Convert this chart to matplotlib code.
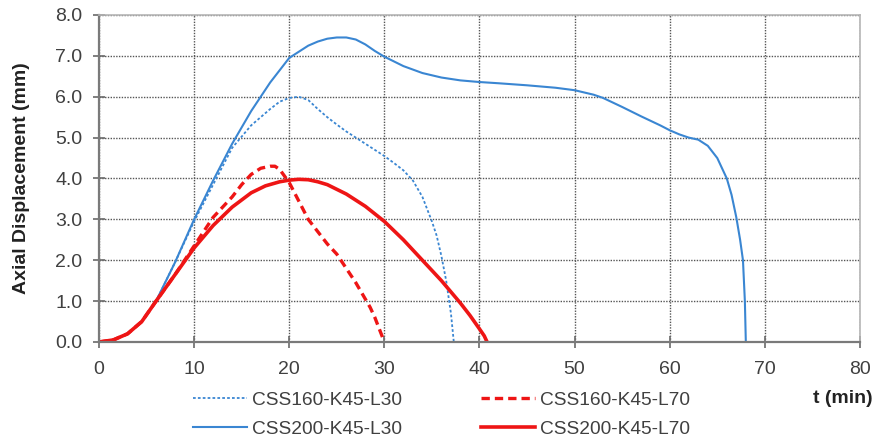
import matplotlib
matplotlib.use("Agg")
import matplotlib.pyplot as plt

plt.rcParams['font.family'] = ['Liberation Sans', 'DejaVu Sans']

# CSS160-K45-L30 (blue dotted)
t_160_l30 = [0, 1.5, 3, 4.5, 6, 8, 10, 12, 14, 16, 17, 18, 19, 20, 21, 22, 23, 24, 25, 26,
             28, 30, 31, 32, 33, 34, 35, 35.5, 36, 36.5, 37, 37.3]
d_160_l30 = [0, 0.05, 0.2, 0.5, 1.0, 1.95, 2.95, 3.85, 4.75, 5.3, 5.5, 5.7, 5.88, 5.97, 6.0, 5.92,
             5.7, 5.5, 5.32, 5.15, 4.85, 4.55, 4.38, 4.2, 3.95, 3.55, 2.95, 2.6, 2.1, 1.5, 0.7, 0]

# CSS160-K45-L70 (red dashed)
t_160_l70 = [0, 1.5, 3, 4.5, 6, 8, 10, 11, 12, 13, 14, 15, 16, 17, 18, 18.5, 19, 20, 21, 22,
             23, 24, 25, 26, 27, 28, 28.5, 29, 29.5, 30]
d_160_l70 = [0, 0.05, 0.2, 0.5, 1.0, 1.65, 2.35, 2.7, 3.05, 3.3, 3.55, 3.85, 4.1, 4.25, 4.3, 4.3,
             4.22, 3.9, 3.45, 3.0, 2.7, 2.4, 2.15, 1.8, 1.45, 1.05, 0.85, 0.6, 0.3, 0]

# CSS200-K45-L30 (blue solid)
t_200_l30 = [0, 1.5, 3, 4.5, 6, 8, 10, 12, 14, 16, 18, 20, 22, 23, 24, 25, 26, 27, 28,
             29, 30, 32, 34, 36, 38, 40, 42, 45, 48, 50, 52, 53, 55, 57, 59, 60, 61, 62, 63,
             64, 65, 66, 66.5, 67, 67.4, 67.7, 67.9, 68.0]
d_200_l30 = [0, 0.05, 0.2, 0.5, 1.0, 1.95, 3.0, 3.95, 4.85, 5.65, 6.35, 6.95, 7.25, 7.35, 7.42,
             7.45, 7.45, 7.4, 7.28, 7.12, 6.98, 6.75, 6.58, 6.47, 6.4, 6.36, 6.33, 6.28,
             6.22, 6.16, 6.05, 5.97, 5.75, 5.52, 5.3, 5.18, 5.08, 5.0, 4.95, 4.8, 4.5, 4.0,
             3.6, 3.05, 2.5, 2.0, 1.0, 0]

# CSS200-K45-L70 (red solid)
t_200_l70 = [0, 1.5, 3, 4.5, 6, 8, 10, 12, 14, 16, 17.5, 19, 20, 21, 22, 23, 24, 26, 28, 30,
             32, 34, 36, 38, 39, 40, 40.5, 40.8]
d_200_l70 = [0, 0.05, 0.2, 0.5, 1.0, 1.65, 2.3, 2.85, 3.3, 3.65, 3.82, 3.92, 3.96, 3.98, 3.97,
             3.92, 3.85, 3.62, 3.32, 2.95, 2.5, 2.0, 1.5, 0.95, 0.65, 0.32, 0.15, 0]

x_ticks = list(range(0, 81, 10))
y_ticks = [0, 1, 2, 3, 4, 5, 6, 7, 8]

blue = '#3a86d2'
red = '#ee1515'
txt_col = '#404040'

fig = plt.figure(figsize=(8.76, 4.41), dpi=100)
ax = fig.add_axes([0.113, 0.2245, 0.8687, 0.7415])

ax.plot(t_160_l30, d_160_l30, color=blue, lw=1.3, ls=(0, (1.5, 1.2)), label='CSS160-K45-L30')
ax.plot(t_160_l70, d_160_l70, color=red, lw=2.4, ls=(0, (2.5, 1.5)), label='CSS160-K45-L70')
ax.plot(t_200_l30, d_200_l30, color=blue, lw=1.5, label='CSS200-K45-L30')
ax.plot(t_200_l70, d_200_l70, color=red, lw=2.6, label='CSS200-K45-L70')

ax.set_xlim(0, 80)
ax.set_ylim(0, 8)
ax.set_xticks(x_ticks)
ax.set_yticks(y_ticks)
ax.set_yticklabels([f"{v:.1f}" for v in y_ticks])
ax.tick_params(labelsize=14, labelcolor=txt_col, color='#6a6a6a', length=9, width=1.2,
               direction='inout')
ax.tick_params(axis='x', pad=9)
ax.tick_params(axis='y', pad=7.5)
ax.grid(True, color='#555555', ls=(0, (1, 1)), lw=1)
ax.set_axisbelow(True)

for s in ['left', 'bottom']:
    ax.spines[s].set_color('#7a7a7a')
    ax.spines[s].set_linewidth(1.6)
for s in ['top', 'right']:
    ax.spines[s].set_color('#b5b5b5')
    ax.spines[s].set_linewidth(1.2)

fig.text(0.0251, 0.596, 'Axial Displacement (mm)', rotation=90, fontsize=14, fontweight='bold',
         color='#222222', ha='center', va='center')
fig.text(0.9966, 0.0975, 't (min)', fontsize=14, fontweight='bold', ha='right', va='center',
         color='#222222')

handles, labels = ax.get_legend_handles_labels()
order = [0, 2, 1, 3]
leg = fig.legend([handles[i] for i in order], [labels[i] for i in order], ncol=2,
                 loc='upper left', bbox_to_anchor=(0.2203, 0.113), frameon=False,
                 fontsize=13.8, handlelength=2.8, handletextpad=0.3, columnspacing=4.1,
                 labelspacing=0.62, borderaxespad=0, borderpad=0)
for txt in leg.get_texts():
    txt.set_color(txt_col)

fig.savefig('out.png', dpi=100)
